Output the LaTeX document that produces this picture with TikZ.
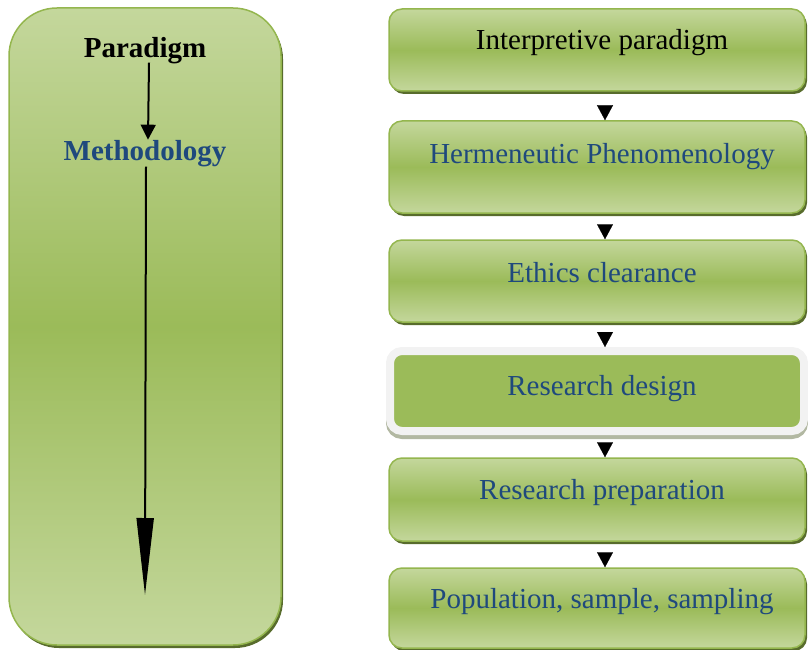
\documentclass[tikz,border=0pt]{standalone}
\usepackage{fontspec}
\setmainfont{Liberation Serif}
\usetikzlibrary{arrows.meta,shadows}
\definecolor{gtop}{RGB}{196,215,156}
\definecolor{gmid}{RGB}{155,187,89}
\definecolor{gline}{RGB}{148,182,78}
\definecolor{gshadow}{RGB}{88,108,44}
\definecolor{tblue}{RGB}{31,73,125}
\definecolor{framec}{RGB}{242,242,242}
\definecolor{fshadow}{RGB}{178,184,162}
\begin{document}
\begin{tikzpicture}[x=1pt,y=-1pt,
 gbox/.style={rectangle, rounded corners=13pt, draw=gline, line width=1.5pt,
   top color=gtop, bottom color=gtop, middle color=gmid,
   minimum width=416pt, inner sep=0pt},
 gsh/.style={drop shadow={shadow xshift=2pt, shadow yshift=-3pt, fill=gshadow, opacity=1}},
 lbl/.style={anchor=base, inner sep=0pt, font=\fontsize{29}{34}\selectfont, text=tblue},
 blbl/.style={lbl, font=\fontsize{29}{34}\selectfont\bfseries},
 conn/.style={draw=white, line width=0.2pt, shorten <=9pt,
   -{Triangle[length=15pt,width=16pt,color=black]}},
 larrow/.style={draw=black, line width=2pt},
]
\useasboundingbox (0,0) rectangle (808,650);

% left panel
\node[gbox, gsh, rounded corners=48pt, minimum width=272pt, minimum height=637pt] (lb) at (145,326.5) {};
\node[blbl, text=black] (para) at (145,58) {Paradigm};
\node[blbl] (meth) at (145,160) {Methodology};
\coordinate (tipend) at (145,595);
\draw[larrow, -{Triangle[length=15pt,width=15pt]}] ([xshift=4pt,yshift=2pt]para.south) -- ([xshift=3pt]meth.north);
\draw[larrow, -{Triangle[length=77pt,width=17pt]}] ([xshift=1pt]meth.south) -- (tipend);

% right column
\node[gbox, gsh, minimum height=82pt] (b1) at (597,50) {};
\node[gbox, gsh, minimum height=92pt] (b2) at (597,167) {};
\node[gbox, gsh, minimum height=82pt] (b3) at (597,281) {};
\node[rectangle, rounded corners=12pt, fill=gmid, draw=framec, line width=8pt,
  minimum width=414pt, minimum height=80pt, inner sep=0pt,
  drop shadow={shadow xshift=0pt, shadow yshift=-4pt, fill=fshadow, draw=fshadow, line width=8pt, opacity=1}] (b4) at (597,391) {};
\node[gbox, gsh, minimum height=83pt] (b5) at (597,499.5) {};
\node[gbox, gsh, minimum height=80pt] (b6) at (597,608) {};

\node[lbl, text=black] (t1) at (602,50) {Interpretive paradigm};
\node[lbl] (t2) at (602,164) {Hermeneutic Phenomenology};
\node[lbl] (t3) at (602,282) {Ethics clearance};
\node[lbl] (t4) at (602,395) {Research design};
\node[lbl] (t5) at (602,499) {Research preparation};
\node[lbl] (t6) at (602,608) {Population, sample, sampling};

\draw[conn] ([xshift=8pt]b1.south) -- ([xshift=8pt]b2.north);
\draw[conn] ([xshift=8pt]b2.south) -- ([xshift=8pt]b3.north);
\draw[conn] ([xshift=8pt]b3.south) -- ([xshift=8pt]b4.north);
\draw[conn] ([xshift=8pt]b4.south) -- ([xshift=8pt]b5.north);
\draw[conn] ([xshift=8pt]b5.south) -- ([xshift=8pt]b6.north);
\end{tikzpicture}
\end{document}
